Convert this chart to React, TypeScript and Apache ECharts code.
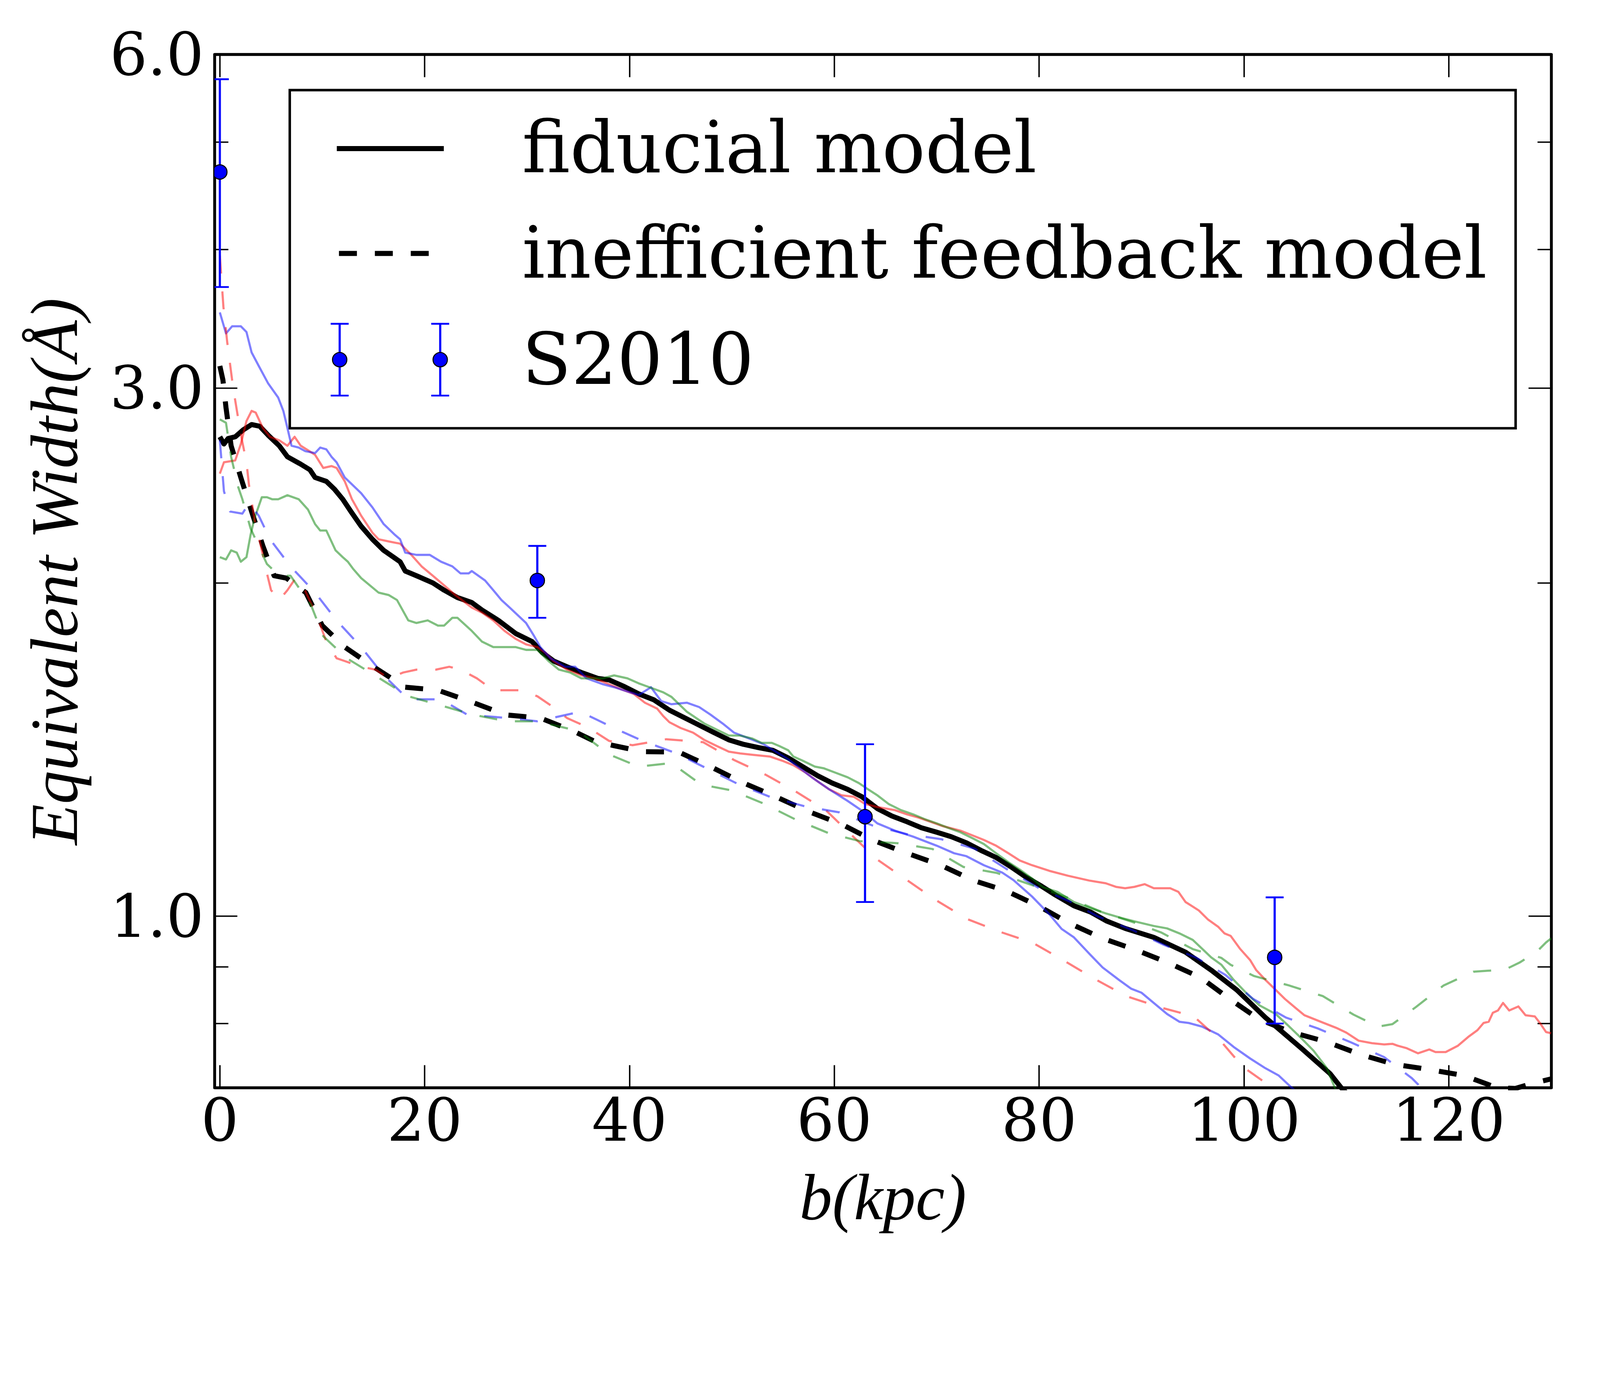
import React, { useEffect, useRef, useState } from "react";
import * as echarts from "echarts";

const W = 4456;
const H = 3544;

const X_MIN = -0.5;
const X_MAX = 130;
const Y_MIN = 0.7;
const Y_MAX = 6.0;

const xTickValues = [0, 20, 40, 60, 80, 100, 120];
const yMajorTicks = [1, 3, 6];
const yMinorTicks = [0.8, 0.9, 2, 4, 5];

const fiducial: [number, number][] = [
  [0, 2.71], [0.4, 2.67], [0.8, 2.7], [1.5, 2.71], [2.3, 2.75], [3.1, 2.78], [3.9, 2.77], [4.7, 2.72],
  [5.8, 2.66], [6.6, 2.6], [7.9, 2.56], [8.8, 2.53], [9.3, 2.49], [10.4, 2.47], [11.2, 2.43], [12.0, 2.38],
  [12.8, 2.32], [13.8, 2.25], [14.9, 2.19], [16.0, 2.14], [17.6, 2.09], [18.1, 2.05], [19.2, 2.03], [20.8, 2.0],
  [21.9, 1.97], [23.2, 1.94], [24.6, 1.92], [25.6, 1.89], [27.2, 1.85], [28.9, 1.8], [30.5, 1.77], [31.5, 1.73],
  [32.6, 1.7], [33.9, 1.68], [35.3, 1.66], [36.9, 1.64], [38.0, 1.635], [39.5, 1.612], [40.9, 1.588], [42.4, 1.568],
  [43.9, 1.535], [45.3, 1.512], [46.8, 1.488], [48.2, 1.466], [49.7, 1.443], [51.1, 1.43], [52.6, 1.42], [54.0, 1.412],
  [55.5, 1.39], [56.9, 1.365], [58.4, 1.339], [59.8, 1.319], [61.3, 1.302], [62.7, 1.282], [64.2, 1.251], [65.6, 1.232],
  [67.1, 1.217], [68.5, 1.202], [70.0, 1.191], [71.4, 1.18], [72.9, 1.165], [74.3, 1.147], [75.8, 1.13], [77.2, 1.109],
  [78.7, 1.085], [80.2, 1.065], [81.6, 1.045], [83.4, 1.022], [85.0, 1.009], [86.6, 0.99], [88.4, 0.975], [91.2, 0.957],
  [94.3, 0.928], [96.8, 0.894], [99.3, 0.858], [102.1, 0.81], [105.6, 0.76], [108.4, 0.721], [109.5, 0.7], [110.2, 0.69],
];

const inefficient: [number, number][] = [
  [0, 3.14], [0.3, 3.05], [0.6, 2.88], [1.1, 2.66], [2.05, 2.49], [3.1, 2.32], [4.2, 2.16], [5.3, 2.03],
  [6.5, 2.02], [8.4, 1.96], [10.0, 1.83], [12.2, 1.75], [15.0, 1.68], [18.1, 1.61], [21.3, 1.6], [24.7, 1.56],
  [27.9, 1.52], [31.3, 1.51], [34.5, 1.47], [36.5, 1.44], [38.3, 1.427], [41.3, 1.408], [44.8, 1.407], [47.9, 1.365],
  [51.0, 1.321], [54.3, 1.282], [57.4, 1.244], [60.7, 1.211], [63.7, 1.172], [67.1, 1.14], [70.4, 1.112], [73.5, 1.078],
  [76.8, 1.054], [79.9, 1.022], [82.9, 0.986], [86.2, 0.955], [89.5, 0.932], [92.7, 0.907], [95.8, 0.88], [98.6, 0.842],
  [101.5, 0.807], [104.6, 0.786], [108.1, 0.77], [111.4, 0.75], [114.7, 0.735], [118.1, 0.727], [121.5, 0.718], [124.7, 0.7],
  [126.5, 0.699], [128.1, 0.706], [130, 0.713],
];

const redSolid: [number, number][] = [
  [0, 2.51], [0.4, 2.57], [1.5, 2.58], [2.05, 2.67], [2.6, 2.8], [3.1, 2.86], [3.5, 2.85], [4.2, 2.76],
  [4.9, 2.71], [5.8, 2.69], [6.6, 2.66], [7.3, 2.71], [7.9, 2.66], [8.75, 2.63], [9.3, 2.61], [10.1, 2.54],
  [10.9, 2.55], [11.4, 2.54], [12.2, 2.47], [12.9, 2.38], [13.8, 2.3], [14.9, 2.22], [15.5, 2.19], [16.5, 2.18],
  [17.6, 2.17], [18.7, 2.12], [19.7, 2.07], [20.8, 2.03], [21.9, 1.99], [23.0, 1.95], [24.6, 1.9], [25.6, 1.88],
  [26.7, 1.85], [27.8, 1.81], [28.9, 1.78], [29.9, 1.76], [31.0, 1.75], [31.8, 1.73], [32.6, 1.7], [33.9, 1.67],
  [35.3, 1.65], [36.6, 1.64], [38.0, 1.62], [39.2, 1.603], [40.4, 1.588], [41.5, 1.559], [42.7, 1.54], [43.3, 1.516],
  [43.9, 1.497], [45.0, 1.479], [46.2, 1.465], [47.3, 1.443], [48.5, 1.425], [49.7, 1.408], [50.8, 1.403], [52.0, 1.399],
  [53.7, 1.394], [54.9, 1.382], [56.0, 1.369], [57.2, 1.348], [58.4, 1.323], [59.5, 1.302], [60.7, 1.286], [61.9, 1.282],
  [63.0, 1.263], [64.2, 1.255], [65.9, 1.247], [67.1, 1.236], [68.2, 1.228], [69.4, 1.217], [70.6, 1.206], [72.3, 1.195],
  [73.5, 1.183], [74.6, 1.172], [75.8, 1.158], [77.0, 1.14], [78.1, 1.123], [79.3, 1.112], [81.0, 1.099], [82.8, 1.088],
  [84.9, 1.077], [86.5, 1.071], [87.5, 1.063], [88.4, 1.06], [89.3, 1.063], [90.3, 1.069], [91.2, 1.06], [92.8, 1.06],
  [93.6, 1.052], [94.3, 1.03], [95.6, 1.012], [96.5, 0.993], [97.5, 0.978], [98.1, 0.965], [98.7, 0.96], [99.6, 0.935],
  [100.6, 0.913], [101.2, 0.894], [102.1, 0.876], [103.1, 0.858], [104.0, 0.842], [105.0, 0.827], [105.9, 0.814], [107.5, 0.803],
  [109.0, 0.793], [110.0, 0.785], [111.2, 0.772], [112.5, 0.768], [113.7, 0.766], [114.5, 0.767], [115.0, 0.764], [115.9, 0.76],
  [117.0, 0.752], [118.1, 0.758], [118.7, 0.754], [119.7, 0.754], [120.9, 0.764], [121.9, 0.778], [122.8, 0.789], [123.4, 0.801],
  [123.9, 0.803], [124.3, 0.818], [124.8, 0.822], [125.3, 0.835], [125.9, 0.822], [126.8, 0.829], [127.5, 0.814], [128.4, 0.812],
  [128.9, 0.801], [129.5, 0.786], [130, 0.784],
];

const blueSolid: [number, number][] = [
  [0, 3.51], [0.6, 3.36], [1.2, 3.41], [2.05, 3.41], [2.6, 3.37], [3.1, 3.23], [3.8, 3.14], [4.7, 3.03],
  [5.7, 2.94], [6.2, 2.86], [6.6, 2.76], [7.0, 2.66], [7.7, 2.65], [8.35, 2.63], [9.3, 2.62], [9.8, 2.65],
  [10.4, 2.64], [10.9, 2.6], [11.4, 2.57], [12.2, 2.49], [12.8, 2.46], [13.8, 2.41], [14.9, 2.34], [16.0, 2.26],
  [17.1, 2.21], [17.6, 2.19], [18.1, 2.13], [19.2, 2.12], [20.5, 2.12], [21.6, 2.09], [22.7, 2.07], [23.5, 2.04],
  [24.3, 2.04], [24.6, 2.05], [25.9, 2.01], [26.7, 1.97], [27.5, 1.93], [28.3, 1.9], [29.9, 1.84], [30.7, 1.79],
  [31.3, 1.75], [32.3, 1.71], [33.7, 1.68], [34.7, 1.68], [35.8, 1.64], [37.4, 1.62], [38.5, 1.61], [40.9, 1.584],
  [42.1, 1.61], [43.1, 1.564], [44.1, 1.554], [45.6, 1.559], [46.8, 1.545], [47.9, 1.521], [49.1, 1.493], [50.2, 1.465],
  [51.7, 1.447], [53.1, 1.43], [55.5, 1.386], [57.8, 1.335], [59.5, 1.302], [61.3, 1.271], [63.0, 1.24], [64.2, 1.213],
  [65.9, 1.195], [67.7, 1.18], [70.0, 1.158], [71.7, 1.14], [72.9, 1.133], [74.6, 1.112], [76.4, 1.095], [77.5, 1.078],
  [79.3, 1.042], [81.0, 1.004], [82.2, 0.974], [83.4, 0.957], [85.0, 0.923], [86.2, 0.899], [87.8, 0.876], [89.0, 0.86],
  [90.0, 0.853], [91.2, 0.835], [92.5, 0.816], [93.7, 0.803], [94.6, 0.801], [95.9, 0.795], [97.5, 0.782], [99.0, 0.762],
  [100.6, 0.744], [102.1, 0.729], [103.4, 0.718], [104.6, 0.701], [105.5, 0.69],
];

const greenSolid: [number, number][] = [
  [0, 2.11], [0.6, 2.1], [1.1, 2.14], [1.65, 2.13], [2.05, 2.09], [2.6, 2.11], [3.0, 2.21], [3.4, 2.29],
  [4.1, 2.39], [4.6, 2.39], [5.1, 2.38], [5.7, 2.38], [6.6, 2.4], [7.7, 2.38], [8.6, 2.33], [9.3, 2.26],
  [9.8, 2.23], [10.4, 2.23], [11.3, 2.14], [12.0, 2.11], [12.5, 2.09], [13.0, 2.06], [13.8, 2.02], [15.5, 1.96],
  [16.5, 1.95], [17.3, 1.93], [18.4, 1.85], [19.2, 1.84], [20.3, 1.85], [21.3, 1.83], [21.9, 1.83], [22.7, 1.86],
  [23.2, 1.86], [24.6, 1.81], [25.6, 1.77], [26.7, 1.75], [28.9, 1.75], [29.9, 1.74], [31.0, 1.74], [32.1, 1.7],
  [33.1, 1.67], [34.2, 1.66], [35.3, 1.64], [36.4, 1.64], [37.4, 1.64], [38.5, 1.65], [39.8, 1.64], [40.9, 1.623],
  [42.1, 1.608], [43.3, 1.593], [44.1, 1.578], [45.0, 1.549], [45.6, 1.53], [47.3, 1.493], [49.7, 1.456], [50.8, 1.456],
  [52.0, 1.447], [52.9, 1.434], [53.9, 1.434], [54.6, 1.425], [55.5, 1.412], [56.0, 1.394], [56.9, 1.382], [58.1, 1.365],
  [59.0, 1.36], [60.1, 1.348], [61.3, 1.335], [62.4, 1.319], [63.3, 1.302], [64.2, 1.286], [65.3, 1.263], [66.5, 1.247],
  [67.7, 1.236], [68.8, 1.224], [70.0, 1.213], [71.1, 1.202], [72.3, 1.191], [73.5, 1.176], [74.6, 1.162], [75.8, 1.14],
  [77.0, 1.119], [78.1, 1.102], [79.3, 1.082], [80.4, 1.062], [81.8, 1.052], [83.4, 1.03], [85.0, 1.017], [86.5, 1.006],
  [88.1, 0.996], [89.6, 0.988], [91.2, 0.98], [92.5, 0.975], [93.7, 0.965], [95.0, 0.952], [95.9, 0.935], [96.8, 0.918],
  [97.8, 0.904], [99.0, 0.876], [100.3, 0.851], [101.5, 0.831], [103.1, 0.816], [104.3, 0.797], [105.6, 0.776], [106.8, 0.756],
  [108.1, 0.729], [108.9, 0.699], [109.3, 0.69],
];

const redDashed: [number, number][] = [
  [0, 3.95], [0.35, 3.55], [0.72, 3.3], [1.0, 3.15], [1.3, 3.0], [1.75, 2.83], [2.2, 2.68], [2.6, 2.57],
  [2.85, 2.45], [3.4, 2.28], [4.1, 2.14], [4.6, 2.04], [5.0, 1.97], [5.8, 1.93], [6.6, 1.97], [7.4, 2.02],
  [8.1, 1.99], [8.75, 1.93], [9.55, 1.86], [10.4, 1.77], [11.4, 1.71], [12.2, 1.7], [13.8, 1.68], [15.2, 1.67],
  [16.5, 1.64], [17.9, 1.66], [19.2, 1.67], [21.1, 1.67], [22.4, 1.68], [23.5, 1.67], [25.1, 1.64], [26.7, 1.6],
  [28.0, 1.6], [29.4, 1.6], [31.0, 1.58], [32.6, 1.544], [33.9, 1.51], [36.0, 1.48], [38.0, 1.44], [40.3, 1.427],
  [43.6, 1.445], [47.2, 1.436], [50.2, 1.384], [53.3, 1.342], [56.3, 1.295], [59.2, 1.246], [61.6, 1.186], [64.2, 1.125],
  [67.1, 1.078], [70.0, 1.033], [73.0, 0.994], [76.2, 0.968], [79.4, 0.946], [82.5, 0.911], [85.5, 0.877], [88.5, 0.847],
  [91.9, 0.827], [95.1, 0.812], [97.6, 0.774], [99.9, 0.731], [102.5, 0.703], [103.5, 0.69],
];

const blueDashed: [number, number][] = [
  [0, 2.69], [0.4, 2.42], [1.0, 2.32], [2.2, 2.31], [2.85, 2.36], [3.8, 2.3], [4.9, 2.19], [6.9, 2.07],
  [9.3, 1.96], [11.4, 1.85], [13.8, 1.75], [16.0, 1.65], [18.4, 1.57], [21.6, 1.57], [24.2, 1.52], [28.2, 1.51],
  [31.0, 1.5], [35.2, 1.53], [38.5, 1.479], [41.2, 1.441], [44.6, 1.403], [50.7, 1.315], [53.7, 1.282], [57.1, 1.257],
  [60.5, 1.241], [63.7, 1.208], [67.1, 1.186], [70.4, 1.174], [73.7, 1.151], [76.7, 1.105], [80.0, 1.06], [83.1, 1.03],
  [85.7, 1.0], [89.2, 0.971], [92.2, 0.942], [95.3, 0.918], [98.2, 0.885], [100.9, 0.842], [104.1, 0.81], [107.2, 0.792],
  [110.5, 0.769], [113.7, 0.746], [116.4, 0.714], [117.0, 0.705], [117.5, 0.69],
];

const greenDashed: [number, number][] = [
  [0, 2.81], [0.6, 2.79], [1.1, 2.6], [1.8, 2.44], [2.2, 2.38], [3.0, 2.24], [4.6, 2.08], [5.8, 2.03],
  [6.9, 2.03], [8.9, 1.91], [10.1, 1.79], [12.4, 1.71], [15.6, 1.64], [18.4, 1.58], [21.6, 1.55], [24.8, 1.52],
  [28.0, 1.5], [31.0, 1.5], [35.0, 1.47], [38.0, 1.4], [40.9, 1.365], [44.1, 1.375], [47.0, 1.315], [50.0, 1.299],
  [53.1, 1.264], [56.2, 1.223], [59.5, 1.188], [62.5, 1.169], [66.2, 1.164], [69.6, 1.15], [72.6, 1.108], [75.9, 1.094],
  [79.3, 1.067], [82.5, 1.042], [86.0, 1.01], [89.0, 0.989], [91.9, 0.967], [95.0, 0.934], [97.8, 0.917], [98.7, 0.904],
  [101.0, 0.883], [104.4, 0.866], [107.7, 0.847], [110.7, 0.815], [113.1, 0.795], [114.5, 0.799], [116.8, 0.828], [119.5, 0.866],
  [122.4, 0.891], [125.5, 0.895], [126.9, 0.908], [128.6, 0.929], [129.5, 0.947], [130, 0.955],
];

const s2010X = [0, 31, 63, 103];
const s2010Y = [4.7, 2.01, 1.23, 0.918];
const s2010Lo = [3.7, 1.86, 1.03, 0.8];
const s2010Hi = [5.7, 2.16, 1.43, 1.04];

const L = (v: number) => Math.log10(v);
const toLog = (pts: [number, number][]) => pts.map(([x, y]) => [x, L(y)]);

const SERIF = "DejaVu Serif";
const MATH = "Liberation Serif";

function buildOption(s: number) {
  const p = (v: number) => v * s;
  const DASH = [p(50), p(50)];
  const TICK_FONT = p(165);
  const LEGEND_FONT = p(200);

  const lineSeries = (name: string, pts: [number, number][], color: string, width: number, dashed: boolean) => ({
    name,
    type: "line",
    data: toLog(pts),
    showSymbol: false,
    symbol: "none",
    silent: true,
    clip: true,
    lineStyle: { color, width: p(width), type: dashed ? DASH : "solid", join: "round", cap: "butt" },
  });

  const xAxisDef = (position: "bottom" | "top") => ({
    type: "value",
    position,
    min: X_MIN,
    max: X_MAX,
    axisLine: { show: true, onZero: false, lineStyle: { color: "#000", width: p(8) } },
    axisTick: { show: true, inside: true, length: p(63), lineStyle: { color: "#000", width: p(4) }, customValues: xTickValues },
    axisLabel: {
      show: position === "bottom",
      customValues: xTickValues,
      fontSize: TICK_FONT,
      fontFamily: SERIF,
      color: "#000",
      margin: p(8),
    },
    splitLine: { show: false },
  });

  const yAxisDef = (position: "left" | "right", major: boolean) => ({
    type: "value",
    position,
    min: L(Y_MIN),
    max: L(Y_MAX),
    axisLine: { show: major, onZero: false, lineStyle: { color: "#000", width: p(8) } },
    axisTick: {
      show: true,
      inside: true,
      length: p(major ? 63 : 38),
      lineStyle: { color: "#000", width: p(4) },
      customValues: (major ? yMajorTicks : yMinorTicks).map(L),
    },
    axisLabel: {
      show: major && position === "left",
      customValues: yMajorTicks.map(L),
      formatter: (v: number) => Math.pow(10, v).toFixed(1),
      fontSize: TICK_FONT,
      fontFamily: SERIF,
      color: "#000",
      margin: p(30),
      padding: [0, 0, p(44), 0],
    },
    splitLine: { show: false },
  });

  const errorBarGlyph = (cx: number, cy: number, yTop: number, yBot: number) => [
    { type: "line", shape: { x1: cx, y1: yTop, x2: cx, y2: yBot }, style: { stroke: "#0000ff", lineWidth: p(6) } },
    { type: "line", shape: { x1: cx - p(25), y1: yTop, x2: cx + p(25), y2: yTop }, style: { stroke: "#0000ff", lineWidth: p(5) } },
    { type: "line", shape: { x1: cx - p(25), y1: yBot, x2: cx + p(25), y2: yBot }, style: { stroke: "#0000ff", lineWidth: p(5) } },
    { type: "circle", shape: { cx, cy, r: p(20) }, style: { fill: "#0000ff", stroke: "#000", lineWidth: p(3) } },
  ];

  const textStyle = (text: string, size: number, family: string, italic: boolean, align: string) => ({
    text,
    fontSize: size,
    fontFamily: family,
    fontStyle: italic ? "italic" : "normal",
    fill: "#000",
    align,
    verticalAlign: "middle",
    textAlign: align,
    textVerticalAlign: "middle",
  });

  const legendText = (text: string, y: number) => ({
    type: "text",
    x: p(1454),
    y: p(y),
    style: textStyle(text, LEGEND_FONT, SERIF, false, "left"),
  });

  return {
    animation: false,
    backgroundColor: "#ffffff",
    grid: { left: p(598), right: p(136), top: p(152), bottom: p(513), containLabel: false, outerBoundsMode: "none" },
    xAxis: [xAxisDef("bottom"), xAxisDef("top")],
    yAxis: [yAxisDef("left", true), yAxisDef("right", true), yAxisDef("left", false), yAxisDef("right", false)],
    series: [
      lineSeries("fiducial model", fiducial, "#000000", 14, false),
      lineSeries("inefficient feedback model", inefficient, "#000000", 14, true),
      lineSeries("red solid", redSolid, "rgba(255,0,0,0.5)", 6, false),
      lineSeries("blue solid", blueSolid, "rgba(0,0,255,0.5)", 6, false),
      lineSeries("green solid", greenSolid, "rgba(0,128,0,0.5)", 6, false),
      lineSeries("red dashed", redDashed, "rgba(255,0,0,0.5)", 6, true),
      lineSeries("blue dashed", blueDashed, "rgba(0,0,255,0.5)", 6, true),
      lineSeries("green dashed", greenDashed, "rgba(0,128,0,0.5)", 6, true),
      {
        name: "S2010",
        type: "custom",
        clip: true,
        silent: true,
        z: 5,
        encode: { x: 0, y: 1 },
        data: s2010X.map((x, i) => [x, L(s2010Y[i]), L(s2010Lo[i]), L(s2010Hi[i])]),
        renderItem: (_params: any, api: any) => {
          const x = api.value(0);
          const c = api.coord([x, api.value(1)]);
          const lo = api.coord([x, api.value(2)]);
          const hi = api.coord([x, api.value(3)]);
          return { type: "group", children: errorBarGlyph(c[0], c[1], hi[1], lo[1]) };
        },
      },
    ],
    graphic: [
      {
        type: "group",
        z: 100,
        children: [
          {
            type: "rect",
            shape: { x: p(807), y: p(251), width: p(4221 - 807), height: p(1193 - 251) },
            style: { fill: "#ffffff", stroke: "#000000", lineWidth: p(7) },
          },
          { type: "line", shape: { x1: p(938), y1: p(414), x2: p(1236), y2: p(414) }, style: { stroke: "#000", lineWidth: p(14) } },
          {
            type: "line",
            shape: { x1: p(944), y1: p(706), x2: p(1236), y2: p(706) },
            style: { stroke: "#000", lineWidth: p(14), lineDash: DASH },
          },
          ...errorBarGlyph(p(946), p(1002), p(902), p(1102)),
          ...errorBarGlyph(p(1226), p(1002), p(902), p(1102)),
          legendText("fiducial model", 410),
          legendText("inefficient feedback model", 704),
          legendText("S2010", 1000),
        ],
      },
      {
        type: "text",
        x: p(2459),
        y: p(3335),
        style: textStyle("b(kpc)", p(182), MATH, true, "center"),
      },
      {
        type: "text",
        x: p(152),
        y: p(1592),
        rotation: Math.PI / 2,
        style: textStyle("Equivalent Width(Å)", p(186), MATH, true, "center"),
      },
    ],
  };
}

export default function App() {
  const ref = useRef<HTMLDivElement>(null);
  const [scale] = useState(() => {
    const sw = window.innerWidth / W;
    const sh = window.innerHeight / H;
    const v = Math.min(sw, sh);
    return v > 0 ? v : 1;
  });
  const width = Math.floor(W * scale);
  const height = Math.floor(H * scale);

  useEffect(() => {
    if (!ref.current) return;
    const chart = echarts.init(ref.current, undefined, { renderer: "svg", width, height });
    chart.setOption(buildOption(scale) as any);
    return () => chart.dispose();
  }, [scale, width, height]);

  return (
    <div
      ref={ref}
      style={{ position: "absolute", left: 0, top: 0, width, height, background: "#ffffff", overflow: "hidden" }}
    />
  );
}
